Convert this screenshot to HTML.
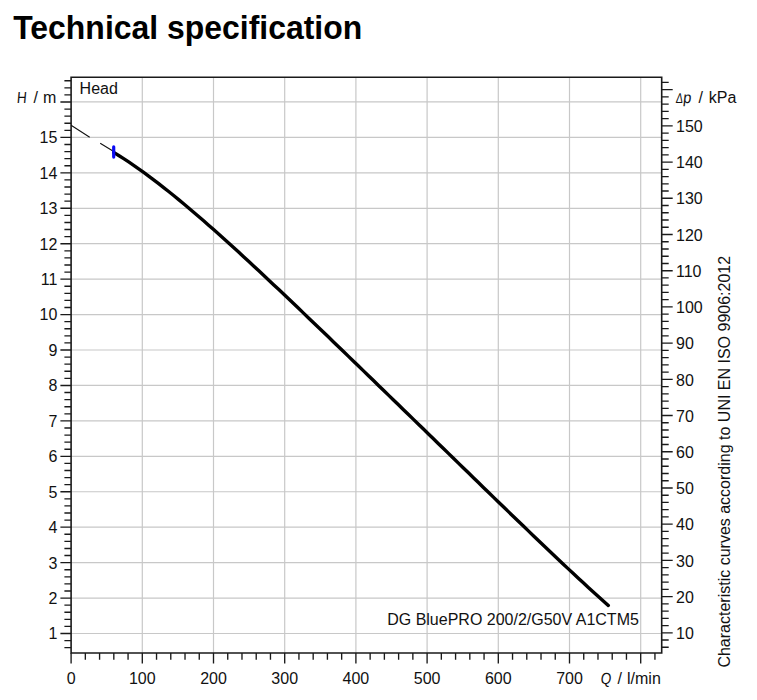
<!DOCTYPE html><html><head><meta charset="utf-8"><style>html,body{margin:0;padding:0;background:#fff;width:757px;height:700px;overflow:hidden;position:relative}</style></head><body><svg width="757" height="700" viewBox="0 0 757 700" style="position:absolute;left:0;top:0">
<rect width="757" height="700" fill="#fff"/>
<path d="M71.1 633.50H661.7 M71.1 598.07H661.7 M71.1 562.63H661.7 M71.1 527.19H661.7 M71.1 491.76H661.7 M71.1 456.32H661.7 M71.1 420.89H661.7 M71.1 385.45H661.7 M71.1 350.02H661.7 M71.1 314.58H661.7 M71.1 279.15H661.7 M71.1 243.71H661.7 M71.1 208.28H661.7 M71.1 172.84H661.7 M71.1 137.41H661.7 M71.1 101.97H661.7 M142.30 77.2V653.0 M213.50 77.2V653.0 M284.70 77.2V653.0 M355.90 77.2V653.0 M427.10 77.2V653.0 M498.30 77.2V653.0 M569.50 77.2V653.0 M640.70 77.2V653.0" stroke="#c8c8c8" stroke-width="1.2" fill="none"/>
<path d="M64.4 647.67H71.1 M64.4 640.59H71.1 M60.4 633.50H71.1 M64.4 626.41H71.1 M64.4 619.33H71.1 M64.4 612.24H71.1 M64.4 605.15H71.1 M60.4 598.07H71.1 M64.4 590.98H71.1 M64.4 583.89H71.1 M64.4 576.80H71.1 M64.4 569.72H71.1 M60.4 562.63H71.1 M64.4 555.54H71.1 M64.4 548.46H71.1 M64.4 541.37H71.1 M64.4 534.28H71.1 M60.4 527.19H71.1 M64.4 520.11H71.1 M64.4 513.02H71.1 M64.4 505.93H71.1 M64.4 498.85H71.1 M60.4 491.76H71.1 M64.4 484.67H71.1 M64.4 477.59H71.1 M64.4 470.50H71.1 M64.4 463.41H71.1 M60.4 456.32H71.1 M64.4 449.24H71.1 M64.4 442.15H71.1 M64.4 435.06H71.1 M64.4 427.98H71.1 M60.4 420.89H71.1 M64.4 413.80H71.1 M64.4 406.72H71.1 M64.4 399.63H71.1 M64.4 392.54H71.1 M60.4 385.45H71.1 M64.4 378.37H71.1 M64.4 371.28H71.1 M64.4 364.19H71.1 M64.4 357.11H71.1 M60.4 350.02H71.1 M64.4 342.93H71.1 M64.4 335.85H71.1 M64.4 328.76H71.1 M64.4 321.67H71.1 M60.4 314.58H71.1 M64.4 307.50H71.1 M64.4 300.41H71.1 M64.4 293.32H71.1 M64.4 286.24H71.1 M60.4 279.15H71.1 M64.4 272.06H71.1 M64.4 264.98H71.1 M64.4 257.89H71.1 M64.4 250.80H71.1 M60.4 243.71H71.1 M64.4 236.63H71.1 M64.4 229.54H71.1 M64.4 222.45H71.1 M64.4 215.37H71.1 M60.4 208.28H71.1 M64.4 201.19H71.1 M64.4 194.11H71.1 M64.4 187.02H71.1 M64.4 179.93H71.1 M60.4 172.84H71.1 M64.4 165.76H71.1 M64.4 158.67H71.1 M64.4 151.58H71.1 M64.4 144.50H71.1 M60.4 137.41H71.1 M64.4 130.32H71.1 M64.4 123.24H71.1 M64.4 116.15H71.1 M64.4 109.06H71.1 M60.4 101.97H71.1 M64.4 94.89H71.1 M64.4 87.80H71.1 M64.4 80.71H71.1 M71.10 653.0V663.5 M85.34 653.0V659.7 M99.58 653.0V659.7 M113.82 653.0V659.7 M128.06 653.0V659.7 M142.30 653.0V663.5 M156.54 653.0V659.7 M170.78 653.0V659.7 M185.02 653.0V659.7 M199.26 653.0V659.7 M213.50 653.0V663.5 M227.74 653.0V659.7 M241.98 653.0V659.7 M256.22 653.0V659.7 M270.46 653.0V659.7 M284.70 653.0V663.5 M298.94 653.0V659.7 M313.18 653.0V659.7 M327.42 653.0V659.7 M341.66 653.0V659.7 M355.90 653.0V663.5 M370.14 653.0V659.7 M384.38 653.0V659.7 M398.62 653.0V659.7 M412.86 653.0V659.7 M427.10 653.0V663.5 M441.34 653.0V659.7 M455.58 653.0V659.7 M469.82 653.0V659.7 M484.06 653.0V659.7 M498.30 653.0V663.5 M512.54 653.0V659.7 M526.78 653.0V659.7 M541.02 653.0V659.7 M555.26 653.0V659.7 M569.50 653.0V663.5 M583.74 653.0V659.7 M597.98 653.0V659.7 M612.22 653.0V659.7 M626.46 653.0V659.7 M640.70 653.0V663.5 M654.94 653.0V659.7 M661.7 647.28H668.7 M661.7 640.04H668.7 M661.7 632.80H672.7 M661.7 625.56H668.7 M661.7 618.32H668.7 M661.7 611.07H668.7 M661.7 603.83H668.7 M661.7 596.59H672.7 M661.7 589.35H668.7 M661.7 582.11H668.7 M661.7 574.86H668.7 M661.7 567.62H668.7 M661.7 560.38H672.7 M661.7 553.14H668.7 M661.7 545.90H668.7 M661.7 538.65H668.7 M661.7 531.41H668.7 M661.7 524.17H672.7 M661.7 516.93H668.7 M661.7 509.69H668.7 M661.7 502.44H668.7 M661.7 495.20H668.7 M661.7 487.96H672.7 M661.7 480.72H668.7 M661.7 473.48H668.7 M661.7 466.23H668.7 M661.7 458.99H668.7 M661.7 451.75H672.7 M661.7 444.51H668.7 M661.7 437.27H668.7 M661.7 430.02H668.7 M661.7 422.78H668.7 M661.7 415.54H672.7 M661.7 408.30H668.7 M661.7 401.06H668.7 M661.7 393.81H668.7 M661.7 386.57H668.7 M661.7 379.33H672.7 M661.7 372.09H668.7 M661.7 364.85H668.7 M661.7 357.60H668.7 M661.7 350.36H668.7 M661.7 343.12H672.7 M661.7 335.88H668.7 M661.7 328.64H668.7 M661.7 321.39H668.7 M661.7 314.15H668.7 M661.7 306.91H672.7 M661.7 299.67H668.7 M661.7 292.43H668.7 M661.7 285.18H668.7 M661.7 277.94H668.7 M661.7 270.70H672.7 M661.7 263.46H668.7 M661.7 256.22H668.7 M661.7 248.97H668.7 M661.7 241.73H668.7 M661.7 234.49H672.7 M661.7 227.25H668.7 M661.7 220.01H668.7 M661.7 212.76H668.7 M661.7 205.52H668.7 M661.7 198.28H672.7 M661.7 191.04H668.7 M661.7 183.80H668.7 M661.7 176.55H668.7 M661.7 169.31H668.7 M661.7 162.07H672.7 M661.7 154.83H668.7 M661.7 147.59H668.7 M661.7 140.34H668.7 M661.7 133.10H668.7 M661.7 125.86H672.7 M661.7 118.62H668.7 M661.7 111.38H668.7 M661.7 104.13H668.7 M661.7 96.89H668.7 M661.7 89.65H672.7 M661.7 82.41H668.7" stroke="#1a1a1a" stroke-width="1.35" fill="none"/>
<path d="M71.1 77.2H661.7V653.0H71.1Z" stroke="#1a1a1a" stroke-width="1.6" fill="none"/>
<polyline points="113.70,152.34 118.70,155.44 123.69,158.64 128.69,161.95 133.68,165.35 138.68,168.85 143.68,172.44 148.67,176.10 153.67,179.85 158.66,183.67 163.66,187.56 168.66,191.52 173.65,195.54 178.65,199.62 183.64,203.76 188.64,207.95 193.64,212.18 198.63,216.47 203.63,220.80 208.62,225.17 213.62,229.57 218.62,234.01 223.61,238.49 228.61,243.00 233.60,247.53 238.60,252.10 243.59,256.68 248.59,261.30 253.59,265.93 258.58,270.58 263.58,275.25 268.57,279.94 273.57,284.64 278.57,289.36 283.56,294.09 288.56,298.83 293.55,303.59 298.55,308.35 303.55,313.12 308.54,317.90 313.54,322.69 318.53,327.49 323.53,332.29 328.53,337.10 333.52,341.91 338.52,346.73 343.51,351.55 348.51,356.38 353.51,361.21 358.50,366.04 363.50,370.88 368.49,375.72 373.49,380.56 378.49,385.41 383.48,390.25 388.48,395.10 393.47,399.95 398.47,404.81 403.47,409.66 408.46,414.52 413.46,419.37 418.45,424.23 423.45,429.09 428.45,433.95 433.44,438.81 438.44,443.67 443.43,448.53 448.43,453.40 453.43,458.26 458.42,463.12 463.42,467.98 468.41,472.84 473.41,477.70 478.41,482.56 483.40,487.41 488.40,492.26 493.39,497.11 498.39,501.96 503.38,506.80 508.38,511.63 513.38,516.46 518.37,521.28 523.37,526.09 528.36,530.90 533.36,535.69 538.36,540.48 543.35,545.25 548.35,550.00 553.34,554.75 558.34,559.47 563.34,564.18 568.33,568.87 573.33,573.53 578.32,578.18 583.32,582.79 588.32,587.38 593.31,591.94 598.31,596.47 603.30,600.96 608.30,605.41" stroke="#000" stroke-width="3.4" fill="none" stroke-linecap="round" stroke-linejoin="round"/>
<path d="M71.1 125.2 L89.7 137.2 M100.2 143.3 L113.7 151.5" stroke="#111" stroke-width="1.1" fill="none"/>
<path d="M113.7 146.9 V157.1" stroke="#0a0af5" stroke-width="3.2" stroke-linecap="round"/>
<text x="57.3" y="639.40" font-family="Liberation Sans, sans-serif" font-size="16" text-anchor="end" fill="#111">1</text>
<text x="57.3" y="603.97" font-family="Liberation Sans, sans-serif" font-size="16" text-anchor="end" fill="#111">2</text>
<text x="57.3" y="568.53" font-family="Liberation Sans, sans-serif" font-size="16" text-anchor="end" fill="#111">3</text>
<text x="57.3" y="533.09" font-family="Liberation Sans, sans-serif" font-size="16" text-anchor="end" fill="#111">4</text>
<text x="57.3" y="497.66" font-family="Liberation Sans, sans-serif" font-size="16" text-anchor="end" fill="#111">5</text>
<text x="57.3" y="462.22" font-family="Liberation Sans, sans-serif" font-size="16" text-anchor="end" fill="#111">6</text>
<text x="57.3" y="426.79" font-family="Liberation Sans, sans-serif" font-size="16" text-anchor="end" fill="#111">7</text>
<text x="57.3" y="391.35" font-family="Liberation Sans, sans-serif" font-size="16" text-anchor="end" fill="#111">8</text>
<text x="57.3" y="355.92" font-family="Liberation Sans, sans-serif" font-size="16" text-anchor="end" fill="#111">9</text>
<text x="57.3" y="320.48" font-family="Liberation Sans, sans-serif" font-size="16" text-anchor="end" fill="#111">10</text>
<text x="57.3" y="285.05" font-family="Liberation Sans, sans-serif" font-size="16" text-anchor="end" fill="#111">11</text>
<text x="57.3" y="249.61" font-family="Liberation Sans, sans-serif" font-size="16" text-anchor="end" fill="#111">12</text>
<text x="57.3" y="214.18" font-family="Liberation Sans, sans-serif" font-size="16" text-anchor="end" fill="#111">13</text>
<text x="57.3" y="178.74" font-family="Liberation Sans, sans-serif" font-size="16" text-anchor="end" fill="#111">14</text>
<text x="57.3" y="143.31" font-family="Liberation Sans, sans-serif" font-size="16" text-anchor="end" fill="#111">15</text>
<text x="676.0" y="639.00" font-family="Liberation Sans, sans-serif" font-size="16" fill="#111">10</text>
<text x="676.0" y="602.79" font-family="Liberation Sans, sans-serif" font-size="16" fill="#111">20</text>
<text x="676.0" y="566.58" font-family="Liberation Sans, sans-serif" font-size="16" fill="#111">30</text>
<text x="676.0" y="530.37" font-family="Liberation Sans, sans-serif" font-size="16" fill="#111">40</text>
<text x="676.0" y="494.16" font-family="Liberation Sans, sans-serif" font-size="16" fill="#111">50</text>
<text x="676.0" y="457.95" font-family="Liberation Sans, sans-serif" font-size="16" fill="#111">60</text>
<text x="676.0" y="421.74" font-family="Liberation Sans, sans-serif" font-size="16" fill="#111">70</text>
<text x="676.0" y="385.53" font-family="Liberation Sans, sans-serif" font-size="16" fill="#111">80</text>
<text x="676.0" y="349.32" font-family="Liberation Sans, sans-serif" font-size="16" fill="#111">90</text>
<text x="676.0" y="313.11" font-family="Liberation Sans, sans-serif" font-size="16" fill="#111">100</text>
<text x="676.0" y="276.90" font-family="Liberation Sans, sans-serif" font-size="16" fill="#111">110</text>
<text x="676.0" y="240.69" font-family="Liberation Sans, sans-serif" font-size="16" fill="#111">120</text>
<text x="676.0" y="204.48" font-family="Liberation Sans, sans-serif" font-size="16" fill="#111">130</text>
<text x="676.0" y="168.27" font-family="Liberation Sans, sans-serif" font-size="16" fill="#111">140</text>
<text x="676.0" y="132.06" font-family="Liberation Sans, sans-serif" font-size="16" fill="#111">150</text>
<text x="71.10" y="684.0" font-family="Liberation Sans, sans-serif" font-size="16" text-anchor="middle" fill="#111">0</text>
<text x="142.30" y="684.0" font-family="Liberation Sans, sans-serif" font-size="16" text-anchor="middle" fill="#111">100</text>
<text x="213.50" y="684.0" font-family="Liberation Sans, sans-serif" font-size="16" text-anchor="middle" fill="#111">200</text>
<text x="284.70" y="684.0" font-family="Liberation Sans, sans-serif" font-size="16" text-anchor="middle" fill="#111">300</text>
<text x="355.90" y="684.0" font-family="Liberation Sans, sans-serif" font-size="16" text-anchor="middle" fill="#111">400</text>
<text x="427.10" y="684.0" font-family="Liberation Sans, sans-serif" font-size="16" text-anchor="middle" fill="#111">500</text>
<text x="498.30" y="684.0" font-family="Liberation Sans, sans-serif" font-size="16" text-anchor="middle" fill="#111">600</text>
<text x="569.50" y="684.0" font-family="Liberation Sans, sans-serif" font-size="16" text-anchor="middle" fill="#111">700</text>
<text transform="translate(16.4 102.8) skewX(-5) scale(0.85 1)" font-family="Liberation Sans, sans-serif" font-size="16" fill="#111">H</text>
<text x="33.6" y="103.1" font-family="Liberation Sans, sans-serif" font-size="16" fill="#111">/</text>
<text x="43.1" y="102.9" font-family="Liberation Sans, sans-serif" font-size="16" fill="#111">m</text>
<text transform="translate(675.6 102.6) skewX(-6) scale(0.66 0.89)" font-family="Liberation Sans, sans-serif" font-size="16" fill="#111">Δ</text>
<text transform="translate(682.7 102.6) skewX(-6) scale(0.92 1)" font-family="Liberation Sans, sans-serif" font-size="16" fill="#111">p</text>
<text x="698.6" y="102.6" font-family="Liberation Sans, sans-serif" font-size="16" fill="#111">/</text>
<text x="708.8" y="102.6" font-family="Liberation Sans, sans-serif" font-size="16" fill="#111">kPa</text>
<text transform="translate(600.3 683.5) skewX(-6) scale(0.85 1)" font-family="Liberation Sans, sans-serif" font-size="16" fill="#111">Q</text>
<text x="617.6" y="683.5" font-family="Liberation Sans, sans-serif" font-size="16" fill="#111">/</text>
<text x="627.0" y="683.5" font-family="Liberation Sans, sans-serif" font-size="16" fill="#111">l/min</text>
<text x="79.6" y="94.2" font-family="Liberation Sans, sans-serif" font-size="16" fill="#111">Head</text>
<text x="387.2" y="624.8" font-family="Liberation Sans, sans-serif" font-size="16" fill="#111">DG BluePRO 200/2/G50V A1CTM5</text>
<text transform="translate(729.9 667.6) rotate(-90)" font-family="Liberation Sans, sans-serif" font-size="16" fill="#111">Characteristic curves according to UNI EN ISO 9906:2012</text>
<text transform="translate(13.2 39.0) scale(0.968 1)" font-family="Liberation Sans, sans-serif" font-weight="bold" font-size="33" fill="#000">Technical specification</text>
</svg></body></html>
